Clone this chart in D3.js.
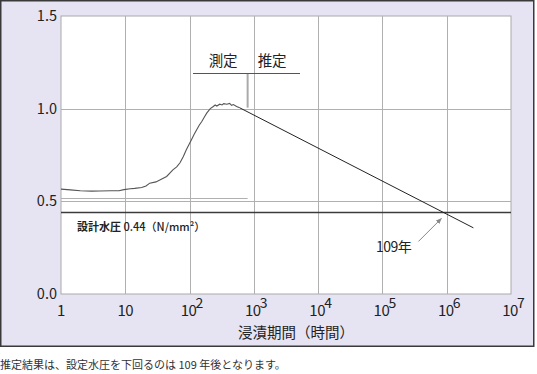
<!DOCTYPE html>
<html>
<head>
<meta charset="utf-8">
<script src="https://cdn.jsdelivr.net/npm/d3@7"></script>
<style>
  body { margin: 0; background: #fff; }
  svg { display: block; font-family: "Noto Sans CJK JP", "Noto Sans", sans-serif; }
</style>
</head>
<body>
<svg id="chart" width="537" height="374"></svg>
<script>
// measured (hours, pressure N/mm2)
const measuredHours = [1, 1.4, 2, 3, 4, 6, 8, 9.5, 12, 14, 18, 21, 24, 30, 35, 44, 55, 63, 71, 80, 89, 98, 107, 118, 129, 142, 155, 170, 186, 210, 234, 250, 265, 295, 320, 340, 380, 420, 450, 480, 540, 600];
const measuredValues = [0.566, 0.562, 0.557, 0.555, 0.556, 0.557, 0.557, 0.563, 0.568, 0.570, 0.575, 0.583, 0.598, 0.605, 0.616, 0.634, 0.670, 0.686, 0.708, 0.742, 0.778, 0.806, 0.832, 0.862, 0.886, 0.912, 0.931, 0.955, 0.977, 1.000, 1.012, 1.020, 1.014, 1.024, 1.020, 1.027, 1.024, 1.028, 1.018, 1.022, 1.012, 1.005];

// estimate line
const estHours = [600, 2.6e6];
const estValues = [1.005, 0.357];

const designValue = 0.44;
const crossHours = 954840; // 109 years

const xTicks = [1, 10, 1e2, 1e3, 1e4, 1e5, 1e6, 1e7];
const xExp = ["", "", "2", "3", "4", "5", "6", "7"];
const xBase = ["1", "10", "10", "10", "10", "10", "10", "10"];
const yTicks = [0, 0.5, 1.0, 1.5];

const svg = d3.select("#chart");

// panel
svg.append("rect")
  .attr("x", 0.75).attr("y", 0.75)
  .attr("width", 533).attr("height", 345.5)
  .attr("fill", "#e6e4f2")
  .attr("stroke", "#3a3a3a")
  .attr("stroke-width", 1.5);

const x = d3.scaleLog().domain([1, 1e7]).range([61, 511]);
const y = d3.scaleLinear().domain([0, 1.5]).range([294, 16]);

svg.append("rect")
  .attr("x", x(1)).attr("y", y(1.5))
  .attr("width", x(1e7) - x(1)).attr("height", y(0) - y(1.5))
  .attr("fill", "#fff")
  .attr("stroke", "#aaa")
  .attr("stroke-width", 1);

const grid = svg.append("g").attr("stroke", "#b0b0b0").attr("stroke-width", 1);
xTicks.slice(1, -1).forEach(t => {
  grid.append("line")
    .attr("x1", Math.round(x(t)) + 0.5).attr("x2", Math.round(x(t)) + 0.5)
    .attr("y1", y(1.5)).attr("y2", y(0));
});
[0.5, 1.0].forEach(t => {
  grid.append("line")
    .attr("x1", x(1)).attr("x2", x(1e7))
    .attr("y1", Math.round(y(t)) + 0.5).attr("y2", Math.round(y(t)) + 0.5);
});
grid.append("line")
  .attr("x1", x(1)).attr("x2", x(800))
  .attr("y1", Math.round(y(0.52)) + 0.5).attr("y2", Math.round(y(0.52)) + 0.5);

// y labels
svg.append("g").selectAll("text")
  .data(yTicks)
  .join("text")
  .attr("x", 57)
  .attr("y", d => y(d) + 5)
  .attr("text-anchor", "end")
  .attr("font-size", 14.5)
  .attr("fill", "#222")
  .text(d => d.toFixed(1));

// x labels
const xl = svg.append("g").attr("fill", "#222");
xTicks.forEach((t, i) => {
  xl.append("text")
    .attr("x", x(t) - (i > 1 ? 1 : 0))
    .attr("y", 316)
    .attr("text-anchor", "middle")
    .attr("font-size", 15)
    .attr("letter-spacing", -0.5)
    .text(xBase[i]);
  if (xExp[i]) {
    xl.append("text")
      .attr("x", x(t) + 6)
      .attr("y", 308)
      .attr("font-size", 14)
      .text(xExp[i]);
  }
});

svg.append("text")
  .attr("x", 296).attr("y", 338)
  .attr("text-anchor", "middle")
  .attr("font-size", 14.5)
  .attr("fill", "#222")
  .text("浸漬期間（時間）");

// design line
svg.append("line")
  .attr("x1", x(1)).attr("x2", x(1e7))
  .attr("y1", y(designValue)).attr("y2", y(designValue))
  .attr("stroke", "#3c3c3c")
  .attr("stroke-width", 1.6);

const dl = svg.append("text")
  .attr("x", 77).attr("y", 231)
  .attr("font-size", 11)
  .attr("fill", "#222");
dl.append("tspan").attr("font-weight", "bold").text("設計水圧");
dl.append("tspan").attr("font-weight", 500).text(" 0.44（N/mm²）");

// measured curve
const line = d3.line().x(d => x(d[0])).y(d => y(d[1]));
svg.append("path")
  .datum(d3.zip(measuredHours, measuredValues))
  .attr("d", line)
  .attr("fill", "none")
  .attr("stroke", "#555")
  .attr("stroke-width", 1.1);

svg.append("path")
  .datum(d3.zip(estHours, estValues))
  .attr("d", line)
  .attr("fill", "none")
  .attr("stroke", "#222")
  .attr("stroke-width", 1);

// measure / estimate marker
const bx = x(800);
svg.append("line")
  .attr("x1", bx).attr("x2", bx)
  .attr("y1", 73).attr("y2", y(1.0) - 1)
  .attr("stroke", "#aaa")
  .attr("stroke-width", 2);
svg.append("line")
  .attr("x1", 193).attr("x2", 300)
  .attr("y1", 73.5).attr("y2", 73.5)
  .attr("stroke", "#555")
  .attr("stroke-width", 1);
svg.append("text")
  .attr("x", bx - 10).attr("y", 66)
  .attr("text-anchor", "end")
  .attr("font-size", 14.5)
  .attr("fill", "#222")
  .text("測定");
svg.append("text")
  .attr("x", bx + 10).attr("y", 66)
  .attr("font-size", 14.5)
  .attr("fill", "#222")
  .text("推定");

// 109 year arrow
svg.append("defs").append("marker")
  .attr("id", "ah")
  .attr("viewBox", "0 0 10 10")
  .attr("refX", 9).attr("refY", 5)
  .attr("markerWidth", 6).attr("markerHeight", 6)
  .attr("orient", "auto")
  .append("path")
  .attr("d", "M0,1 L10,5 L0,9 Z")
  .attr("fill", "#888");

const cx = x(crossHours), cy = y(designValue);
svg.append("line")
  .attr("x1", cx - 27).attr("y1", cy + 29)
  .attr("x2", cx - 4).attr("y2", cy + 6)
  .attr("stroke", "#888")
  .attr("stroke-width", 1)
  .attr("marker-end", "url(#ah)");
svg.append("text")
  .attr("x", 376).attr("y", 252)
  .attr("font-size", 14)
  .attr("letter-spacing", -0.5)
  .attr("fill", "#222")
  .text("109年");

// caption
svg.append("text")
  .attr("x", 0).attr("y", 369)
  .attr("font-size", 11)
  .attr("fill", "#333")
  .text("推定結果は、設定水圧を下回るのは 109 年後となります。");
</script>
</body>
</html>
